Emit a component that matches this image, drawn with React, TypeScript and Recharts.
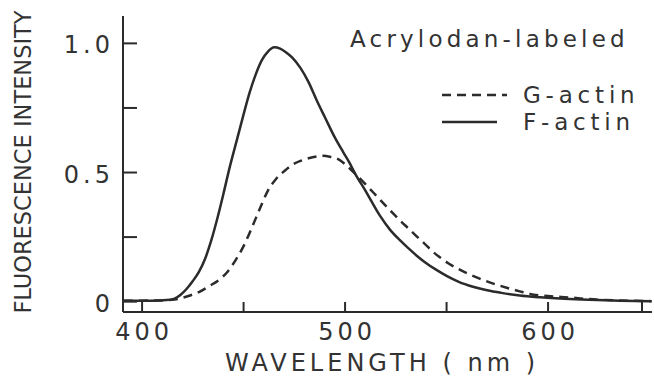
import { LineChart, Line, XAxis, YAxis, Legend } from 'recharts'

const INK = '#2b2b2b'
const TEXT = '#333'
const FONT = '"DejaVu Sans", sans-serif'

// wavelength (nm) / normalized intensity
const gWavelength = [391, 400, 410, 416, 420, 424, 428, 433, 438, 442, 446, 450, 454, 458, 462, 466, 470, 474, 478, 482, 486, 489, 493, 497, 501, 505, 510, 516, 522, 527, 531, 535, 539, 543, 547, 551, 555, 560, 566, 573, 580, 586, 591, 600, 611, 620, 635, 651]
const gIntensity = [0.004, 0.004, 0.005, 0.008, 0.015, 0.025, 0.037, 0.06, 0.085, 0.115, 0.16, 0.215, 0.285, 0.36, 0.43, 0.475, 0.505, 0.53, 0.545, 0.555, 0.562, 0.565, 0.56, 0.55, 0.525, 0.495, 0.455, 0.405, 0.355, 0.315, 0.285, 0.255, 0.226, 0.195, 0.17, 0.148, 0.13, 0.11, 0.09, 0.07, 0.053, 0.04, 0.03, 0.022, 0.016, 0.01, 0.005, 0.002]

const fWavelength = [391, 405, 412, 416, 419, 422, 425, 428, 431, 434, 437, 440, 443, 447, 450, 453, 456, 459, 462, 465, 468, 471, 474, 478, 482, 486, 490, 495, 499, 502, 505, 510, 517, 522, 527, 531, 535, 539, 545, 550, 556, 563, 570, 577, 586, 596, 608, 620, 635, 651]
const fIntensity = [0.004, 0.004, 0.006, 0.012, 0.027, 0.05, 0.08, 0.115, 0.165, 0.235, 0.32, 0.415, 0.515, 0.635, 0.725, 0.81, 0.88, 0.935, 0.968, 0.985, 0.98, 0.965, 0.945, 0.905, 0.85, 0.78, 0.715, 0.635, 0.58, 0.54, 0.495, 0.43, 0.335, 0.28, 0.238, 0.208, 0.18, 0.155, 0.123, 0.1, 0.077, 0.058, 0.044, 0.034, 0.024, 0.017, 0.011, 0.007, 0.004, 0.002]

const legendOrder = ['G-actin', 'F-actin']
const xTicks = [400, 450, 500, 550, 600, 650]
const xLabels = [400, 500, 600]
const yTicks = [0, 0.25, 0.5, 0.75, 1]
const yLabels: Record<number, string> = { 0: '0', 0.5: '0.5', 1: '1.0' }

const gData = gWavelength.map((wl, i) => ({ wl, v: gIntensity[i] }))
const fData = fWavelength.map((wl, i) => ({ wl, v: fIntensity[i] }))

function XTick({ x, y, payload }: any) {
  const v = payload.value
  return (
    <g>
      <line x1={x} x2={x} y1={y} y2={y - 10} stroke={INK} strokeWidth={2} />
      {xLabels.includes(v) && (
        <text x={x + 2} y={y + 28} textAnchor="middle" fill={TEXT} fontSize={24} letterSpacing={4} fontFamily={FONT}>
          {v}
        </text>
      )}
    </g>
  )
}

function YTick({ x, y, payload }: any) {
  const label = yLabels[payload.value]
  return (
    <g>
      <line x1={x} x2={x + 14} y1={y} y2={y} stroke={INK} strokeWidth={2} />
      {label && (
        <text x={x - 9} y={y + 10} textAnchor="end" fill={TEXT} fontSize={24} letterSpacing={4} fontFamily={FONT}>
          {label}
        </text>
      )}
    </g>
  )
}

function LegendBox({ payload }: any) {
  const items = [...(payload || [])].sort(
    (a: any, b: any) => legendOrder.indexOf(a.value) - legendOrder.indexOf(b.value)
  )
  return (
    <svg width={312} height={120} style={{ display: 'block' }}>
      <text x={10} y={27} fill={TEXT} fontSize={23} letterSpacing={4.2} fontFamily={FONT}>
        Acrylodan-labeled
      </text>
      {items.map((item: any, i: number) => {
        const dashed = item.payload?.strokeDasharray
        const cy = 75 + i * 27
        return (
          <g key={item.value}>
            <line x1={102} x2={dashed ? 167 : 157} y1={cy} y2={cy} stroke={INK} strokeWidth={2.5} strokeDasharray={dashed} />
            <text x={183} y={cy + 8} fill={TEXT} fontSize={23} letterSpacing={4.8} fontFamily={FONT}>
              {item.value}
            </text>
          </g>
        )
      })}
    </svg>
  )
}

export default function App() {
  return (
    <div style={{ position: 'absolute', left: 0, top: 0, width: 654, height: 376, background: '#fff' }}>
      <LineChart width={654} height={376} margin={{ top: 16, right: 2, bottom: 34, left: 63 }}>
        <XAxis
          xAxisId="top"
          orientation="top"
          type="number"
          domain={[390.6, 651.2]}
          height={0}
          tick={false}
          tickLine={false}
          axisLine={{ stroke: INK, strokeWidth: 2 }}
        />
        <XAxis
          dataKey="wl"
          type="number"
          domain={[390.6, 651.2]}
          ticks={xTicks}
          height={30}
          tickSize={0}
          tickMargin={0}
          tickLine={false}
          tick={<XTick />}
          axisLine={{ stroke: INK, strokeWidth: 2 }}
          allowDataOverflow
          label={{
            content: () => (
              <text x={382} y={371} textAnchor="middle" fill={TEXT} fontSize={24} letterSpacing={4} fontFamily={FONT}>
                WAVELENGTH ( nm )
              </text>
            ),
          }}
        />
        <YAxis
          type="number"
          domain={[-0.04, 1.106]}
          ticks={yTicks}
          width={60}
          tickSize={0}
          tickMargin={0}
          tickLine={false}
          tick={<YTick />}
          axisLine={{ stroke: INK, strokeWidth: 2 }}
          allowDataOverflow
          label={{
            content: () => (
              <text
                x={31}
                y={162}
                transform="rotate(-90, 31, 162)"
                textAnchor="middle"
                fill={TEXT}
                fontSize={22.5}
                fontFamily={FONT}
              >
                FLUORESCENCE INTENSITY
              </text>
            ),
          }}
        />
        <Legend
          layout="horizontal"
          verticalAlign="middle"
          align="center"
          content={<LegendBox />}
          wrapperStyle={{ position: 'absolute', left: 340, top: 20, width: 312, height: 120 }}
        />
        <Line
          data={gData}
          dataKey="v"
          name="G-actin"
          type="monotone"
          stroke={INK}
          strokeWidth={2.5}
          strokeDasharray="9 6"
          dot={false}
          activeDot={false}
          isAnimationActive={false}
        />
        <Line
          data={fData}
          dataKey="v"
          name="F-actin"
          type="monotone"
          stroke={INK}
          strokeWidth={2.5}
          dot={false}
          activeDot={false}
          isAnimationActive={false}
        />
      </LineChart>
    </div>
  )
}
